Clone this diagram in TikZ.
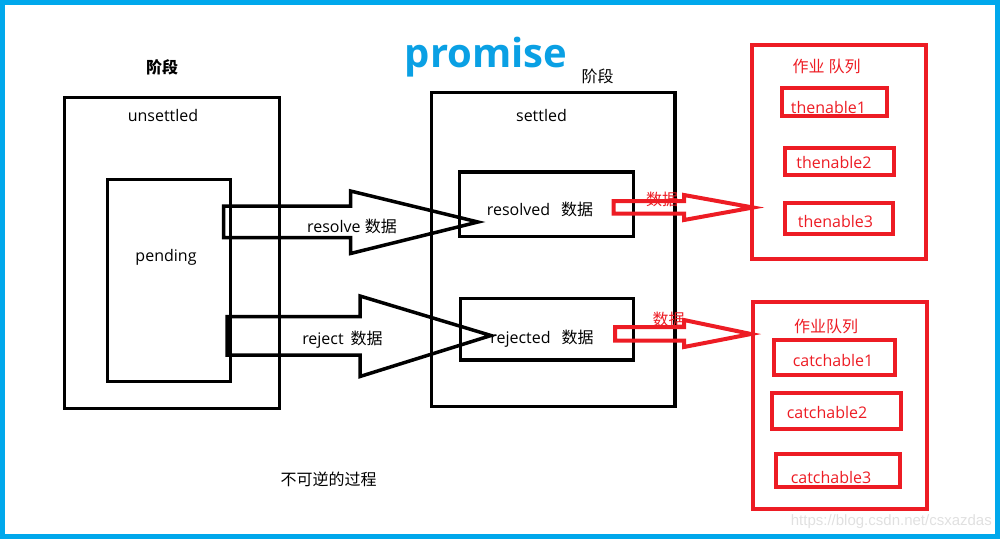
\documentclass[tikz,border=0pt]{standalone}
\usepackage{fontspec}
\setmainfont{Open Sans}
\newfontfamily\cjk{Noto Sans CJK SC}
\newfontfamily\wmfont{Liberation Sans}
\definecolor{frameblue}{RGB}{0,168,236}
\definecolor{titleblue}{RGB}{10,160,228}
\definecolor{queuered}{RGB}{237,28,36}
\begin{document}
\begin{tikzpicture}[x=1pt,y=-1pt,
    stagebox/.style={draw=black,line width=3.5pt,inner sep=0pt},
    queuebox/.style={draw=queuered,line width=4pt,inner sep=0pt},
    txt/.style={inner sep=0pt,font=\fontsize{16}{19}\selectfont},
    redtxt/.style={txt,text=queuered},
    blockarrow/.style={draw=black,line width=3.5pt,line join=miter},
    redarrow/.style={draw=queuered,line width=4pt,line join=miter}]
  \useasboundingbox (0,0) rectangle (1001,539);
  \draw[frameblue,line width=5pt] (2.5,2.5) rectangle (997,536.5);
  % stages
  \node[stagebox,minimum width=215,minimum height=311] (unsettled) at (172,253) {};
  \node[stagebox,minimum width=123,minimum height=202] (pending) at (169,280.5) {};
  \node[stagebox,minimum width=243.5,minimum height=314] (settled) at (553.25,249.5) {};
  \node[stagebox,minimum width=174,minimum height=64.5] (resolved) at (546.5,204.25) {};
  \node[stagebox,minimum width=173,minimum height=61.5] (rejected) at (547,329.25) {};
  % job queues
  \node[queuebox,minimum width=174,minimum height=213.5] (thenq) at (839,151.75) {};
  \node[queuebox,minimum width=105,minimum height=28] (then1) at (834,101.5) {};
  \node[queuebox,minimum width=109,minimum height=27] (then2) at (839,161) {};
  \node[queuebox,minimum width=108,minimum height=31] (then3) at (838.5,218) {};
  \node[queuebox,minimum width=174,minimum height=207.5] (catchq) at (839.5,405.25) {};
  \node[queuebox,minimum width=121,minimum height=35] (catch1) at (834,357) {};
  \node[queuebox,minimum width=129,minimum height=35.5] (catch2) at (836,410.75) {};
  \node[queuebox,minimum width=124,minimum height=33] (catch3) at (837.5,470) {};
  % arrows
  \draw[blockarrow] (223.5,206) -- (350.5,206) -- (350.5,191) -- (478,222)
    -- (350.5,253.5) -- (350.5,237.5) -- (223.5,237.5) -- cycle;
  \draw[blockarrow] (227,316.5) -- (360,316.5) -- (360,296) -- (491,335.5)
    -- (360,376.5) -- (360,355) -- (227,355) -- cycle;
  \draw[redarrow] (613.5,201) -- (684,201) -- (684,195) -- (753,207.5)
    -- (684,220) -- (684,213.5) -- (613.5,213.5) -- cycle;
  \draw[redarrow] (615,327) -- (684,327) -- (684,320) -- (751,334)
    -- (684,347) -- (684,340.5) -- (615,340.5) -- cycle;
  % texts
  \node[inner sep=0pt,text=titleblue,font=\fontsize{40}{48}\selectfont\bfseries,anchor=base] (title) at (486,67) {promise};
  \node[txt,font=\fontsize{16}{19}\selectfont\cjk\bfseries] (stage1) at (162,67) {阶段};
  \node[txt,font=\fontsize{16}{19}\selectfont\cjk] (stage2) at (597.5,76) {阶段};
  \node[txt,anchor=base] (unsettledlabel) at (163,121.5) {unsettled};
  \node[txt] (pendinglabel) at (166,257) {pending};
  \node[txt,anchor=base] (settledlabel) at (541.5,121) {settled};
  \node[txt] (resolvedlabel) at (540,209) {resolved\hspace{11pt}{\cjk 数据}};
  \node[txt] (rejectedlabel) at (542,339) {rejected\hspace{11pt}{\cjk 数据}};
  \node[txt] (resolvelabel) at (352,226) {resolve {\cjk 数据}};
  \node[txt] (rejectlabel) at (342.5,339.5) {reject\hspace{7pt}{\cjk 数据}};
  \node[redtxt,font=\fontsize{16}{19}\selectfont\cjk] (data1) at (662,199.5) {数据};
  \node[redtxt,font=\fontsize{16}{19}\selectfont\cjk] (data2) at (668.5,319.5) {数据};
  \node[redtxt,font=\fontsize{16}{19}\selectfont\cjk] (thenqlabel) at (826.5,66.5) {作业\hspace{4pt}队列};
  \node[redtxt,font=\fontsize{16}{19}\selectfont\cjk] (catchqlabel) at (826,326) {作业队列};
  \node[redtxt,anchor=base] at (828.5,113) {thenable1};
  \node[redtxt,anchor=base] at (834,168) {thenable2};
  \node[redtxt,anchor=base] at (835.5,227) {thenable3};
  \node[redtxt,anchor=base] at (833,366) {catchable1};
  \node[redtxt,anchor=base] at (827,418) {catchable2};
  \node[redtxt,anchor=base] at (831,483) {catchable3};
  \node[txt,font=\fontsize{16}{19}\selectfont\cjk] (irreversible) at (328.5,479.5) {不可逆的过程};
  \node[inner sep=0pt,anchor=base east,text=black!12,font=\fontsize{15}{18}\selectfont\wmfont] (watermark) at (992,525.5) {https://blog.csdn.net/csxazdas};
\end{tikzpicture}
\end{document}
